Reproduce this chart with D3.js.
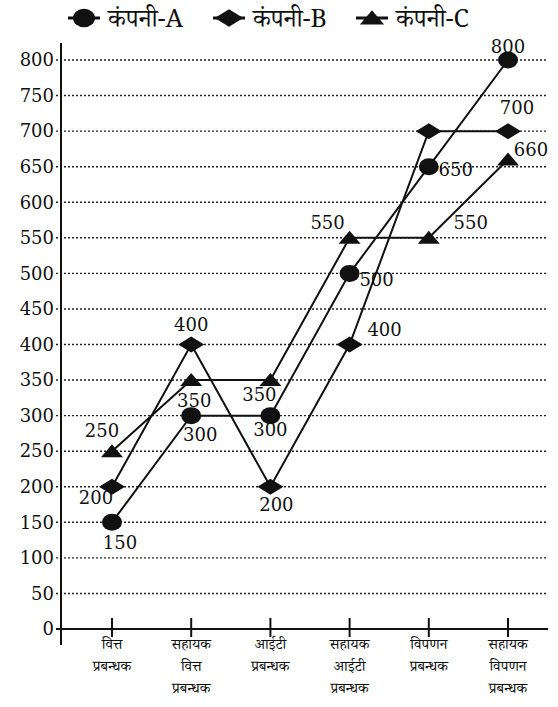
<!DOCTYPE html>
<html><head><meta charset="utf-8">
<script src="https://cdn.jsdelivr.net/npm/d3@7"></script>
<style>
body{margin:0;background:#fff;}
svg text{font-family:"DejaVu Serif","Liberation Serif",serif;fill:#111;}
svg text.hi{font-family:"Noto Serif Devanagari","Noto Sans Devanagari","Lohit Devanagari","DejaVu Serif",serif;}
</style></head><body>
<script>
const categories = [
  ["वित्त","प्रबन्धक"],
  ["सहायक","वित्त","प्रबन्धक"],
  ["आईटी","प्रबन्धक"],
  ["सहायक","आईटी","प्रबन्धक"],
  ["विपणन","प्रबन्धक"],
  ["सहायक","विपणन","प्रबन्धक"]
];
const seriesNames = ["कंपनी-A","कंपनी-B","कंपनी-C"];
const companyA = [150,300,300,500,650,800];
const companyB = [200,400,200,400,700,700];
const companyC = [250,350,350,550,550,660];
const yTicks = [0,50,100,150,200,250,300,350,400,450,500,550,600,650,700,750,800];
// which points show a value label, and label offsets (px) from the point
const labelA = [[8,20],[9,19],[0,14],[27,6],[27,3],[0,-13]];
const labelB = [[-16,11],[0,-20],[6,18],[35,-15],null,[9,-23]];
const labelC = [[-10,-20],[3,21],[-11,15],[-22,-15],[42,-15],[23,-10]];

const W=558,H=707;
const serif="'DejaVu Serif','Liberation Serif',serif";
const svg=d3.select("body").append("svg").attr("width",W).attr("height",H);
const x=d3.scalePoint().domain(d3.range(categories.length)).range([112,508]);
const y=d3.scaleLinear().domain([0,800]).range([629,60]);

// gridlines
svg.append("g").selectAll("line").data(yTicks.filter(d=>d>0)).join("line")
  .attr("x1",56).attr("x2",548).attr("y1",d=>y(d)).attr("y2",d=>y(d))
  .attr("stroke","#222").attr("stroke-width",1.4).attr("stroke-dasharray","2,2");

// y axis
const yAxis=d3.axisLeft(y).tickValues(yTicks).tickSize(0).tickPadding(7);
const gy=svg.append("g").attr("transform","translate(61,0)").call(yAxis).attr("font-family",null);
gy.select(".domain").remove();
gy.selectAll("text").attr("font-size",18).style("font-family",serif).attr("fill","#111");
svg.append("line").attr("x1",61).attr("x2",61).attr("y1",43).attr("y2",645).attr("stroke","#111").attr("stroke-width",2);

// x axis
svg.append("line").attr("x1",56).attr("x2",548).attr("y1",y(0)).attr("y2",y(0)).attr("stroke","#111").attr("stroke-width",2);
const xg=svg.append("g");
xg.selectAll("line").data(d3.range(categories.length)).join("line")
  .attr("x1",d=>x(d)).attr("x2",d=>x(d)).attr("y1",y(0)-11).attr("y2",y(0)+8)
  .attr("stroke","#111").attr("stroke-width",2);
xg.selectAll("text").data(categories).join("text").attr("class","hi")
  .attr("x",(d,i)=>x(i)).attr("y",y(0)+20).attr("text-anchor","middle").attr("font-size",15)
  .each(function(d){
    d3.select(this).selectAll("tspan").data(d).join("tspan")
      .attr("x",d3.select(this).attr("x")).attr("dy",(t,j)=>j===0?0:22).text(t=>t);
  });

function marker(g,type,cx,cy,s){
  if(type===0) g.append("ellipse").attr("cx",cx).attr("cy",cy).attr("rx",10*s).attr("ry",8.5*s).attr("fill","#111");
  else if(type===1) g.append("path").attr("d",`M${cx-13*s},${cy}L${cx},${cy-8*s}L${cx+13*s},${cy}L${cx},${cy+8*s}Z`).attr("fill","#111");
  else g.append("path").attr("d",`M${cx-11*s},${cy+6*s}L${cx},${cy-7*s}L${cx+11*s},${cy+6*s}Z`).attr("fill","#111");
}

const series=[companyA,companyB,companyC];
const labels=[labelA,labelB,labelC];
const line=d3.line().x((d,i)=>x(i)).y(d=>y(d));
series.forEach((vals,k)=>{
  const g=svg.append("g");
  g.append("path").attr("d",line(vals)).attr("fill","none").attr("stroke","#111").attr("stroke-width",2);
  vals.forEach((v,i)=>marker(g,k,x(i),y(v),1));
});
series.forEach((vals,k)=>{
  vals.forEach((v,i)=>{
    const o=labels[k][i]; if(!o) return;
    svg.append("text").attr("x",x(i)+o[0]).attr("y",y(v)+o[1]).attr("dy","0.35em")
      .attr("text-anchor","middle").attr("font-size",18).style("font-family",serif).text(v);
  });
});

// legend
const legX=[68,213,356];
seriesNames.forEach((n,k)=>{
  const g=svg.append("g");
  g.append("line").attr("x1",legX[k]).attr("x2",legX[k]+32).attr("y1",18).attr("y2",18).attr("stroke","#111").attr("stroke-width",3);
  marker(g,k,legX[k]+16,18,1.1);
  g.append("text").attr("class","hi").attr("x",legX[k]+40).attr("y",18).attr("dy","0.35em").attr("font-size",25).text(n);
});
</script>
</body></html>
